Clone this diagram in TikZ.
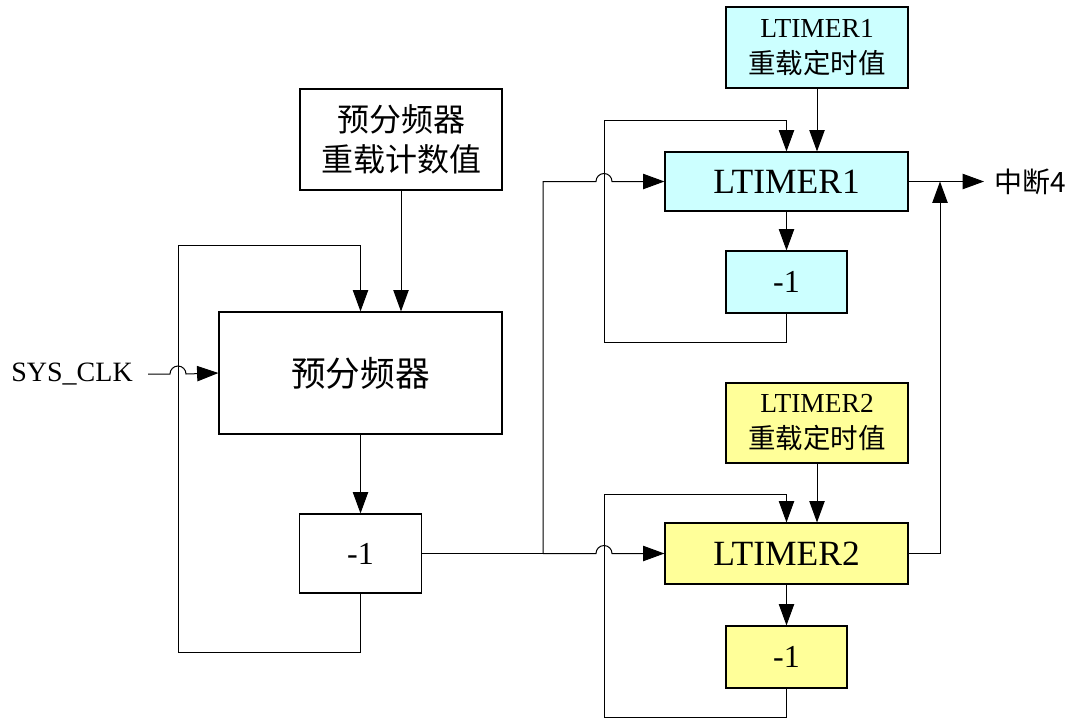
\documentclass[tikz,border=0pt]{standalone}
\usepackage{fontspec}
\setmainfont{Liberation Serif}
\newfontfamily\cjk{Noto Sans CJK SC}
\usetikzlibrary{arrows.meta,calc}
\definecolor{lcyan}{RGB}{204,255,255}
\definecolor{lyellow}{RGB}{255,255,153}
\tikzset{
  box/.style={draw, line width=0.85pt, inner sep=0pt, align=center},
  ln/.style={line width=0.75pt},
  arr/.style={ln, -{Triangle[length=16pt,width=11.5pt]}},
}
\begin{document}
\begin{tikzpicture}[x=0.75pt,y=-0.75pt]
\useasboundingbox (0,0) rectangle (1072,718);
% prescaler part
\node[box, minimum width={202*0.75pt}, minimum height={101*0.75pt}, font=\fontsize{24pt}{30pt}\selectfont\cjk] (prel) at (401,139.5) {预分频器\\重载计数值};
\node[box, minimum width={283*0.75pt}, minimum height={122*0.75pt}, font=\fontsize{26pt}{30pt}\selectfont\cjk] (pre) at (360.5,373) {预分频器};
\node[box, minimum width={122*0.75pt}, minimum height={79*0.75pt}, font=\fontsize{24pt}{28pt}\selectfont] (dec0) at (360.5,553.5) {-1};
\node[anchor=east, inner sep=0pt, font=\fontsize{21pt}{24pt}\selectfont] (sys) at (133,374) {SYS\_CLK};
% timers
\node[box, fill=lcyan, minimum width={182*0.75pt}, minimum height={81*0.75pt}, font=\fontsize{20.6pt}{27pt}\selectfont] (l1rel) at (817,47.5) {LTIMER1\\{\cjk 重载定时值}};
\node[box, fill=lcyan, minimum width={243*0.75pt}, minimum height={59*0.75pt}, font=\fontsize{26.6pt}{30pt}\selectfont] (l1) at (786.5,181.5) {LTIMER1};
\node[box, fill=lcyan, minimum width={121*0.75pt}, minimum height={62*0.75pt}, font=\fontsize{24pt}{28pt}\selectfont] (d1) at (786.5,282) {-1};
\node[box, fill=lyellow, minimum width={182*0.75pt}, minimum height={80*0.75pt}, font=\fontsize{20.6pt}{27pt}\selectfont] (l2rel) at (817,423) {LTIMER2\\{\cjk 重载定时值}};
\node[box, fill=lyellow, minimum width={243*0.75pt}, minimum height={61*0.75pt}, font=\fontsize{26.6pt}{30pt}\selectfont] (l2) at (786.5,553.5) {LTIMER2};
\node[box, fill=lyellow, minimum width={121*0.75pt}, minimum height={62*0.75pt}, font=\fontsize{24pt}{28pt}\selectfont] (d2) at (786.5,657) {-1};
\node[anchor=west, inner sep=0pt, font=\fontsize{21pt}{24pt}\selectfont\cjk] (irq) at (994,181.5) {中断4};
% coordinates
\coordinate (sp) at (543,553.5);
\coordinate (join) at (940,181.5);
% prescaler connectors
\draw[arr] (prel.south) -- (prel.south |- pre.north);
\draw[arr] (pre.south) -- (dec0.north);
\draw[arr] (dec0.south) -- ++(0,59) -| (178,245) -| (pre.north);
\draw[arr] (148,374) -- (170,374) arc[start angle=180, end angle=360, radius=8] -- (pre.west);
% to timers
\draw[ln] (dec0.east) -- (sp);
\draw[arr] (sp) -- (596,553.5) arc[start angle=180, end angle=360, radius=8] -- (l2.west);
\draw[arr] (sp) -- (543,181.5) -- (596,181.5) arc[start angle=180, end angle=360, radius=8] -- (l1.west);
% timer 1
\draw[arr] (l1rel.south) -- (l1rel.south |- l1.north);
\draw[arr] (l1.south) -- (d1.north);
\draw[arr] (d1.south) -- ++(0,29) -| (604,120) -| (l1.north);
% timer 2
\draw[arr] (l2rel.south) -- (l2rel.south |- l2.north);
\draw[arr] (l2.south) -- (d2.north);
\draw[arr] (d2.south) -- ++(0,28.5) -| (604,494) -| (l2.north);
% outputs
\draw[arr] (l1.east) -- ([xshift=-7.5pt]irq.west);
\draw[arr] (l2.east) -| (join);
\end{tikzpicture}
\end{document}
